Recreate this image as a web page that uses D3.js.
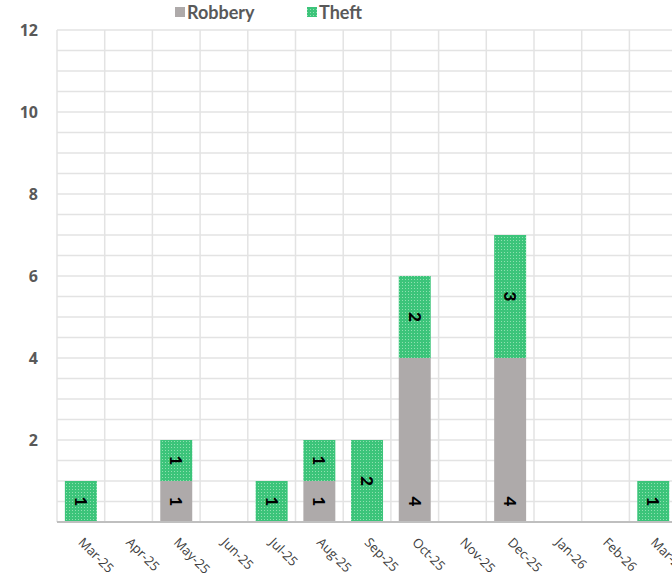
<!DOCTYPE html>
<html>
<head>
<meta charset="utf-8">
<script src="https://cdn.jsdelivr.net/npm/d3@7"></script>
<style>
  body { margin: 0; background: #fff; }
  svg { display: block; font-family: "Open Sans", sans-serif; }
</style>
</head>
<body>
<svg id="chart"></svg>
<script>

const width = 672;
const height = 579;

// data
const months = ["Mar-25", "Apr-25", "May-25", "Jun-25", "Jul-25", "Aug-25", "Sep-25",
                "Oct-25", "Nov-25", "Dec-25", "Jan-26", "Feb-26", "Mar-26"];
const robbery = [0, 0, 1, 0, 0, 1, 0, 4, 0, 4, 0, 0, 0];
const theft   = [1, 0, 1, 0, 1, 1, 2, 2, 0, 3, 0, 0, 1];
const yTicks  = [2, 4, 6, 8, 10, 12];

const plot = { left: 57, top: 30, bottom: 522, step: 47.7 };

const svg = d3.select("#chart")
    .attr("width", width)
    .attr("height", height);

// dotted green fill used by Excel for "Theft"
const defs = svg.append("defs");
const pat = defs.append("pattern")
    .attr("id", "theftPat")
    .attr("width", 3).attr("height", 3)
    .attr("patternUnits", "userSpaceOnUse");
pat.append("rect").attr("width", 3).attr("height", 3).attr("fill", "#3cc47a");
pat.append("rect").attr("width", 1).attr("height", 1).attr("fill", "#8fe0b0");

const x = d3.scaleBand()
    .domain(months)
    .range([plot.left, plot.left + plot.step * months.length])
    .paddingInner(0.33)
    .paddingOuter(0.165);

const y = d3.scaleLinear()
    .domain([0, 12])
    .range([plot.bottom, plot.top]);

// horizontal gridlines every 0.5
const grid = svg.append("g").attr("class", "grid");
grid.selectAll("line.h")
    .data(d3.range(0.5, 12.01, 0.5))
    .enter().append("line")
    .attr("x1", plot.left).attr("x2", width)
    .attr("y1", d => y(d)).attr("y2", d => y(d))
    .attr("stroke", "#e3e3e3")
    .attr("stroke-width", 1.5);

// vertical gridlines on category boundaries
grid.selectAll("line.v")
    .data(d3.range(months.length + 1))
    .enter().append("line")
    .attr("x1", i => plot.left + i * plot.step)
    .attr("x2", i => plot.left + i * plot.step)
    .attr("y1", plot.top).attr("y2", plot.bottom)
    .attr("stroke", "#e3e3e3")
    .attr("stroke-width", 1.5);

// stacked bars
const rows = months.map((m, i) => ({ month: m, robbery: robbery[i], theft: theft[i] }));
const stack = d3.stack().keys(["robbery", "theft"])(rows);
const fills = { robbery: "#aeaaaa", theft: "url(#theftPat)" };

const layers = svg.selectAll("g.layer")
    .data(stack)
    .enter().append("g")
    .attr("class", "layer")
    .attr("fill", d => fills[d.key]);

layers.selectAll("rect")
    .data(d => d)
    .enter().append("rect")
    .attr("x", d => x(d.data.month))
    .attr("width", x.bandwidth())
    .attr("y", d => y(d[1]))
    .attr("height", d => y(d[0]) - y(d[1]));

// data labels, rotated like Excel's vertical text
layers.each(function(layer) {
  d3.select(this).selectAll("text")
    .data(layer.filter(d => d[1] - d[0] > 0))
    .enter().append("text")
    .attr("transform", d => {
      const cx = x(d.data.month) + x.bandwidth() / 2;
      const cy = layer.key === "robbery" ? y(d[0]) - 20.5 : (y(d[0]) + y(d[1])) / 2;
      return `translate(${cx},${cy}) rotate(90)`;
    })
    .attr("text-anchor", "middle")
    .attr("dy", "0.35em")
    .attr("font-family", "Lato, sans-serif")
    .attr("font-size", 17)
    .attr("font-weight", "900")
    .attr("fill", "#000")
    .text(d => d[1] - d[0]);
});

// x baseline
svg.append("line")
    .attr("x1", plot.left).attr("x2", width)
    .attr("y1", plot.bottom).attr("y2", plot.bottom)
    .attr("stroke", "#bfbfbf")
    .attr("stroke-width", 2);

// y tick labels
svg.append("g").selectAll("text")
    .data(yTicks)
    .enter().append("text")
    .attr("x", 38)
    .attr("y", d => y(d))
    .attr("dy", "0.35em")
    .attr("text-anchor", "end")
    .attr("font-size", 16)
    .attr("font-weight", "bold")
    .attr("fill", "#595959")
    .text(d => d);

// x tick labels, slanted
svg.append("g").selectAll("text")
    .data(months)
    .enter().append("text")
    .attr("transform", d => `translate(${x(d) + x.bandwidth() / 2},${plot.bottom + 18}) rotate(45)`)
    .attr("text-anchor", "start")
    .attr("dy", "0.35em")
    .attr("font-size", 13)
    .attr("fill", "#404040")
    .text(d => d);

// legend
const legend = svg.append("g").attr("class", "legend");
const items = [
  { name: "Robbery", fill: fills.robbery, x: 175 },
  { name: "Theft", fill: fills.theft, x: 307 }
];
const li = legend.selectAll("g")
    .data(items)
    .enter().append("g")
    .attr("transform", d => `translate(${d.x},0)`);
li.append("rect")
    .attr("x", 0).attr("y", 7)
    .attr("width", 10).attr("height", 10)
    .attr("fill", d => d.fill);
li.append("text")
    .attr("x", 12).attr("y", 13)
    .attr("dy", "0.35em")
    .attr("font-family", "Lato, sans-serif")
    .attr("font-size", 18)
    .attr("font-weight", "bold")
    .attr("fill", "#595959")
    .text(d => d.name);

</script>
</body>
</html>
